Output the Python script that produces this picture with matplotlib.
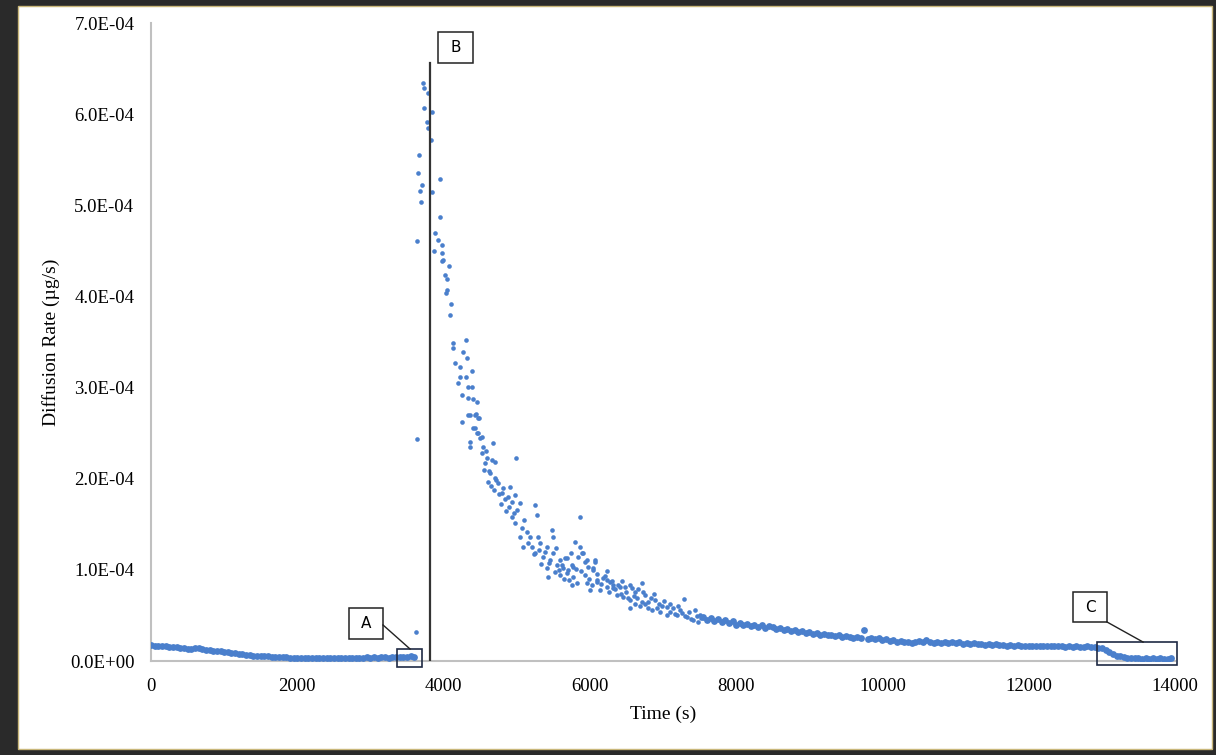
import numpy as np
import matplotlib
matplotlib.use("Agg")
import matplotlib.pyplot as plt
from matplotlib.patches import Rectangle
from matplotlib.ticker import FuncFormatter

# values in units of 1e-5 ug/s
# slow baseline before injection, one reading every 50 s
base_t = np.arange(0, 3650, 50)
base_v = [1.75, 1.7, 1.7, 1.65, 1.6, 1.55, 1.5, 1.5, 1.45, 1.4,
          1.35, 1.35, 1.45, 1.4, 1.3, 1.25, 1.2, 1.15, 1.1, 1.05,
          1.0, 0.95, 0.9, 0.85, 0.8, 0.75, 0.7, 0.65, 0.6, 0.55,
          0.55, 0.5, 0.5, 0.45, 0.45, 0.4, 0.4, 0.4, 0.35, 0.35,
          0.35, 0.35, 0.3, 0.35, 0.3, 0.3, 0.35, 0.3, 0.3, 0.35,
          0.3, 0.35, 0.3, 0.3, 0.35, 0.35, 0.3, 0.35, 0.35, 0.4,
          0.35, 0.4, 0.35, 0.4, 0.4, 0.35, 0.4, 0.45, 0.4, 0.45,
          0.45, 0.5, 0.45]

# peak and decay, scattered readings
peak_t = [3623, 3637, 3637, 3650, 3664, 3678, 3691, 3705, 3719, 3732, 3732, 3774,
          3787, 3787, 3828, 3842, 3842, 3869, 3883, 3924, 3951, 3951, 3979, 3979,
          3979, 3992, 4020, 4033, 4047, 4047, 4074, 4088, 4102, 4129, 4129, 4156,
          4197, 4225, 4225, 4252, 4252, 4266, 4307, 4307, 4320, 4334, 4334, 4334,
          4361, 4361, 4361, 4389, 4389, 4402, 4402, 4430, 4430, 4443, 4457, 4457,
          4471, 4471, 4484, 4498, 4525, 4525, 4539, 4566, 4594, 4607, 4635, 4662,
          4676, 4703, 4703, 4744, 4799, 4813, 4881, 4908, 4936, 4936, 4977, 4977,
          4990, 5004, 5045, 5045, 5072, 5086, 5141, 5182, 5209, 5250, 5250, 5277,
          5291, 5318, 5359, 5414, 5414, 5428, 5455, 5483, 5496, 5496, 5551, 5592,
          5592, 5619, 5633, 5660, 5688, 5688, 5701, 5756, 5756, 5770, 5770, 5797,
          5838, 5865, 5865, 5893, 5906, 5934, 5934, 5961, 5961, 5975, 6002, 6029,
          6043, 6043, 6070, 6070, 6098, 6098, 6139, 6180, 6234, 6234, 6234, 6275,
          6316, 6316, 6371, 6385, 6412, 6453, 6480, 6549, 6549, 6549, 6576, 6617,
          6645, 6713, 6713, 6727, 6795, 6795, 6891, 6918, 6959, 7055, 7055, 7137,
          7191, 7232, 7287, 7328, 7410, 7438, 7506]
peak_v = [3.2, 24.4, 46.1, 53.5, 55.5, 51.6, 50.4, 52.2, 63.4, 62.9, 60.7, 59.1,
          62.3, 58.5, 57.2, 60.2, 51.5, 45.0, 47.0, 46.2, 52.9, 48.7, 45.6, 44.8,
          43.9, 44.0, 42.4, 40.4, 41.9, 40.7, 43.3, 38.0, 39.2, 34.9, 34.3, 32.7,
          30.5, 32.3, 31.2, 29.2, 26.2, 33.9, 35.2, 31.2, 33.2, 30.1, 28.9, 27.0,
          27.0, 24.0, 23.5, 31.8, 30.1, 28.7, 25.6, 27.0, 25.6, 27.1, 28.4, 25.0,
          26.7, 25.0, 26.7, 24.5, 24.6, 22.8, 23.5, 21.7, 22.3, 19.6, 20.6, 22.1,
          23.9, 21.8, 20.1, 19.5, 18.4, 19.0, 18.0, 19.1, 17.4, 15.8, 18.2, 15.1,
          22.3, 16.6, 17.3, 13.6, 14.6, 12.5, 14.2, 13.6, 12.5, 17.1, 11.8, 16.0,
          13.6, 12.9, 11.4, 12.5, 10.2, 9.2, 11.1, 14.4, 13.6, 11.8, 10.5, 11.1,
          9.4, 10.5, 10.2, 11.3, 11.3, 9.7, 10.0, 10.5, 8.3, 10.3, 9.2, 13.1,
          11.4, 15.8, 12.5, 11.8, 11.8, 10.9, 9.4, 11.1, 8.6, 10.3, 7.8, 8.3,
          10.2, 10.0, 11.1, 10.9, 8.9, 8.7, 7.8, 9.1, 9.9, 8.9, 8.1, 8.7,
          8.3, 8.0, 7.2, 8.3, 8.1, 7.0, 8.1, 8.3, 6.7, 5.8, 8.0, 7.6,
          6.9, 8.6, 6.5, 7.6, 6.5, 5.8, 6.7, 5.8, 5.4, 5.9, 5.0, 5.8,
          5.0, 5.6, 6.8, 4.8, 4.5, 5.6, 5.0]

# more readings in the crowded part of the decay
decay_t = [4550, 4580, 4620, 4650, 4690, 4720, 4760, 4780, 4840, 4860, 4900, 4960,
           5100, 5160, 5230, 5300, 5330, 5380, 5440, 5520, 5530, 5580, 5650, 5720,
           5740, 5810, 5820, 5880, 5990,
           6100, 6150, 6200, 6260, 6300, 6340, 6420, 6440, 6500, 6520, 6600, 6620,
           6660, 6690, 6750, 6760, 6830, 6850, 6870, 6940, 6980, 7010, 7090, 7100,
           7160, 7210, 7260, 7300, 7360, 7380, 7460, 7480, 7520]
decay_v = [21.0, 23.0, 20.9, 19.2, 18.8, 19.9, 18.3, 17.2, 17.8, 16.5, 16.9, 16.2,
           15.5, 13.0, 11.7, 12.2, 10.6, 12.0, 10.8, 9.8, 12.4, 10.0, 9.0, 8.9,
           11.8, 10.1, 8.6, 9.9, 9.0,
           9.5, 8.4, 9.3, 7.6, 8.8, 7.9, 7.4, 8.8, 7.6, 6.9, 7.1, 6.3,
           7.9, 6.0, 7.2, 6.2, 6.9, 5.6, 7.4, 6.3, 6.0, 6.6, 5.4, 6.2,
           5.2, 6.0, 5.3, 4.9, 5.4, 4.6, 4.9, 4.3, 4.7]

# long tail, one reading every 50 s
tail_t = np.arange(7550, 14000, 50)
tail_v = [4.8, 4.5, 4.7, 4.4, 4.6, 4.3, 4.5, 4.2, 4.4,
          4.0, 4.2, 3.9, 4.1, 3.8, 3.9, 3.7, 3.9, 3.6, 3.8,
          3.7, 3.5, 3.6, 3.4, 3.5, 3.3, 3.4, 3.2, 3.3, 3.1,
          3.2, 3.0, 3.1, 2.9, 3.0, 2.8, 2.9, 2.7, 2.8, 2.6,
          2.7, 2.6, 2.5, 2.6, 2.5, 3.4, 2.4, 2.5, 2.4, 2.5,
          2.3, 2.4, 2.2, 2.3, 2.1, 2.2, 2.1, 2.1, 2.0, 2.1,
          2.2, 2.1, 2.3, 2.1, 2.0, 2.1, 2.0, 2.1, 2.0, 2.1,
          2.0, 2.1, 1.9, 2.0, 1.9, 2.0, 1.9, 1.9, 1.8, 1.9,
          1.8, 1.9, 1.8, 1.8, 1.7, 1.8, 1.7, 1.8, 1.7, 1.7,
          1.7, 1.6, 1.7, 1.6, 1.7, 1.6, 1.6, 1.7, 1.6, 1.6,
          1.5, 1.6, 1.5, 1.6, 1.5, 1.5, 1.6, 1.5, 1.5, 1.4,
          1.4, 1.2, 1.0, 0.8, 0.6, 0.5, 0.4, 0.35, 0.3, 0.3,
          0.3, 0.25, 0.3, 0.25, 0.3, 0.25, 0.3, 0.25, 0.25, 0.3]

injection_t = 3815
x_ticks = np.arange(0, 14001, 2000)
y_ticks = np.arange(0, 7.01e-4, 1e-4)

blue = '#4a7fcc'
serif = ['Liberation Serif', 'DejaVu Serif']

fig = plt.figure(figsize=(12.16, 7.55), dpi=100, facecolor='#2a2a2a')
# white slide area inside the dark frame
fig.patches.append(Rectangle((0.0148, 0.008), 0.982, 0.984, transform=fig.transFigure,
                             facecolor='white', edgecolor='#c9b77a', lw=1, zorder=-5))
ax = fig.add_axes([0.1242, 0.1245, 0.8421, 0.845])
ax.set_facecolor('none')

scale = 1e-5
ax.scatter(base_t, np.array(base_v) * scale, s=24, color=blue, lw=0, zorder=3)
ax.scatter(peak_t, np.array(peak_v) * scale, s=11, color=blue, lw=0, zorder=3)
ax.scatter(decay_t, np.array(decay_v) * scale, s=11, color=blue, lw=0, zorder=3)
ax.scatter(tail_t, np.array(tail_v) * scale, s=24, color=blue, lw=0, zorder=3)

ax.set_xlim(0, 14000)
ax.set_ylim(0, 7e-4)
ax.set_xticks(x_ticks)
ax.set_yticks(y_ticks)
ax.yaxis.set_major_formatter(FuncFormatter(lambda v, p: f"{v:.1E}"))
ax.tick_params(length=0, labelsize=13.5, pad=12)
for lab in ax.get_xticklabels() + ax.get_yticklabels():
    lab.set_family(serif)

for s in ['top', 'right']:
    ax.spines[s].set_visible(False)
for s in ['left', 'bottom']:
    ax.spines[s].set_color('#c0c0c0')
    ax.spines[s].set_linewidth(1.5)

ax.set_xlabel('Time (s)', fontsize=14, family=serif)
ax.set_ylabel('Diffusion Rate (µg/s)', fontsize=14, family=serif)
ax.xaxis.set_label_coords(0.5, -0.07)
ax.yaxis.set_label_coords(-0.089, 0.5)

# annotation B: injection line
ax.plot([injection_t, injection_t], [0, 6.56e-4], color='#333333', lw=1.6, zorder=4)
ax.add_patch(Rectangle((3924, 6.56e-4), 478, 0.34e-4, fill=False, ec='#222222', lw=1.1,
                       clip_on=False, zorder=5))
ax.text(4163, 6.73e-4, 'B', ha='center', va='center', fontsize=11, family='DejaVu Sans')

# annotation A
ax.add_patch(Rectangle((2707, 0.241e-4), 465, 0.341e-4, fill=False, ec='#222222', lw=1.1,
                       clip_on=False, zorder=5))
ax.text(2940, 0.411e-4, 'A', ha='center', va='center', fontsize=11, family='DejaVu Sans')
ax.add_patch(Rectangle((3363, -0.066e-4), 342, 0.198e-4, fill=False, ec='#1f2a44', lw=1.2,
                       clip_on=False, zorder=5))
ax.plot([3172, 3541], [0.395e-4, 0.132e-4], color='#222222', lw=1.0, clip_on=False, zorder=5)

# annotation C
ax.add_patch(Rectangle((12606, 0.428e-4), 464, 0.329e-4, fill=False, ec='#222222', lw=1.1,
                       clip_on=False, zorder=5))
ax.text(12838, 0.59e-4, 'C', ha='center', va='center', fontsize=11, family='DejaVu Sans')
ax.add_patch(Rectangle((12934, -0.044e-4), 1093, 0.252e-4, fill=False, ec='#1f2a44', lw=1.2,
                       clip_on=False, zorder=5))
ax.plot([13070, 13563], [0.428e-4, 0.208e-4], color='#222222', lw=1.0, clip_on=False, zorder=5)

fig.savefig('out.png', dpi=100, facecolor=fig.get_facecolor())
